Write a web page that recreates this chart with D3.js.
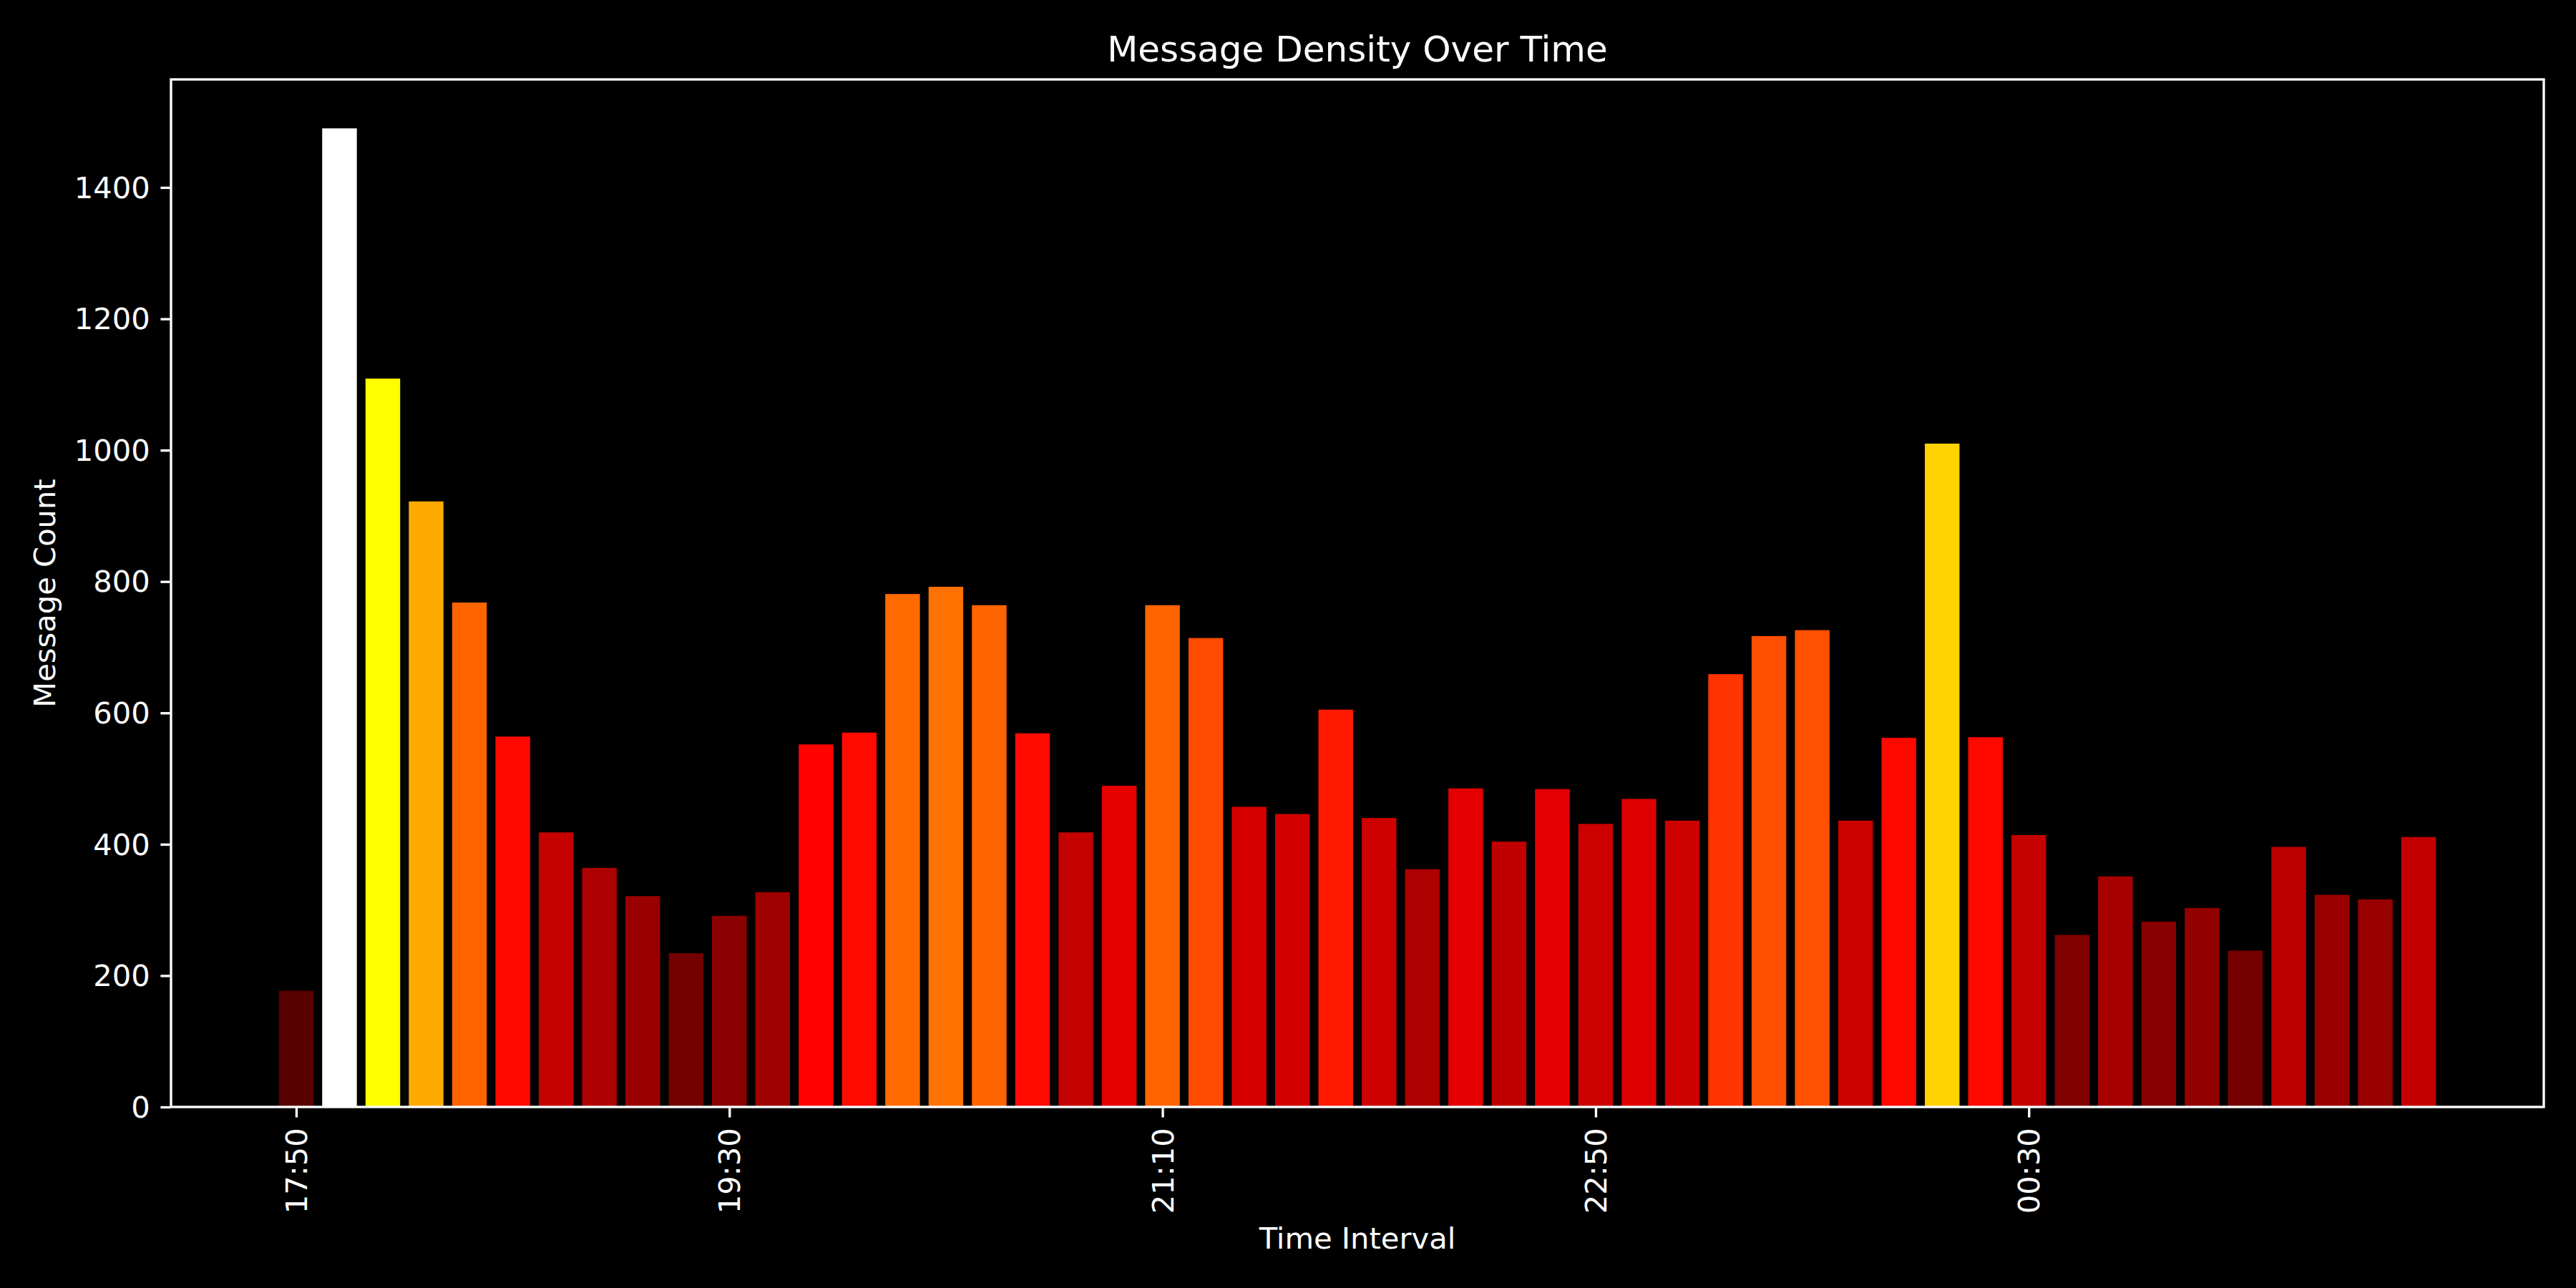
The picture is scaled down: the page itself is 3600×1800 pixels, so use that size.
<!DOCTYPE html>
<html>
<head>
<meta charset="utf-8">
<script src="https://cdn.jsdelivr.net/npm/d3@7"></script>
<style>
  html, body { margin: 0; padding: 0; background: #000; }
  svg { display: block; }
  text { font-family: "DejaVu Sans", sans-serif; fill: #fff; }
</style>
</head>
<body>
<svg id="chart" width="3600" height="1800"></svg>
<script>
// ---- data ----
const timeLabels = [
  "17:50","18:00","18:10","18:20","18:30","18:40","18:50","19:00","19:10","19:20",
  "19:30","19:40","19:50","20:00","20:10","20:20","20:30","20:40","20:50","21:00",
  "21:10","21:20","21:30","21:40","21:50","22:00","22:10","22:20","22:30","22:40",
  "22:50","23:00","23:10","23:20","23:30","23:40","23:50","00:00","00:10","00:20",
  "00:30","00:40","00:50","01:00","01:10","01:20","01:30","01:40","01:50","02:00"
];
const messageCounts = [
  177, 1490, 1109, 922, 768, 564, 418, 364, 321, 234,
  291, 327, 552, 570, 781, 792, 764, 569, 418, 489,
  764, 714, 457, 446, 605, 440, 362, 485, 404, 484,
  431, 469, 436, 659, 717, 726, 436, 562, 1010, 563,
  414, 262, 351, 282, 303, 238, 396, 323, 316, 411
];
const xTickIndices = [0, 10, 20, 30, 40];
const yTickValues = [0, 200, 400, 600, 800, 1000, 1200, 1400];
const titleText = "Message Density Over Time";
const xLabelText = "Time Interval";
const yLabelText = "Message Count";

// ---- layout ----
const W = 3600, H = 1800;
const plotL = 239, plotR = 3555, plotT = 111, plotB = 1547;
const px = 300 / 72; // points to pixels at 300 dpi
const fs = 10 * px;
const tickLen = 3.5 * px, tickPad = 3.5 * px, lw = 0.8 * px;

const svg = d3.select("#chart");
svg.append("rect").attr("width", W).attr("height", H).attr("fill", "#000");

const n = messageCounts.length;
const barW = 0.8;
const span = (n - 1) + barW;
const xMin = -barW / 2 - 0.05 * span, xMax = (n - 1) + barW / 2 + 0.05 * span;
const x = d3.scaleLinear().domain([xMin, xMax]).range([plotL, plotR]);
const yMax = d3.max(messageCounts) * 1.05;
const y = d3.scaleLinear().domain([0, yMax]).range([plotB, plotT]);

// matplotlib 'hot' colormap (256-entry LUT)
const hotR = d3.scaleLinear().domain([0, 0.365079, 1]).range([0.0416, 1, 1]).clamp(true);
const hotG = d3.scaleLinear().domain([0, 0.365079, 0.746032, 1]).range([0, 0, 1, 1]).clamp(true);
const hotB = d3.scaleLinear().domain([0, 0.746032, 1]).range([0, 0, 1]).clamp(true);
function hot(t) {
  t = Math.max(0, Math.min(1, t));
  const i = Math.min(255, Math.floor(t * 256));
  const v = i / 255;
  return d3.rgb(Math.round(hotR(v) * 255), Math.round(hotG(v) * 255), Math.round(hotB(v) * 255)).formatHex();
}
const vmax = d3.max(messageCounts);

// bars
svg.append("g").selectAll("rect")
  .data(messageCounts)
  .join("rect")
  .attr("x", (d, i) => x(i - barW / 2))
  .attr("width", (d, i) => x(i + barW / 2) - x(i - barW / 2))
  .attr("y", d => y(d))
  .attr("height", d => y(0) - y(d))
  .attr("fill", d => hot(d / vmax));

// y axis
const yAxis = d3.axisLeft(y).tickValues(yTickValues).tickFormat(d3.format("d"))
  .tickSize(tickLen).tickPadding(tickPad);
const gy = svg.append("g").attr("transform", `translate(${plotL},0)`).call(yAxis);
gy.select(".domain").remove();
gy.selectAll(".tick line").attr("stroke", "#fff").attr("stroke-width", lw);
gy.selectAll(".tick text").attr("fill", "#fff").attr("font-size", fs)
  .attr("font-family", "DejaVu Sans").attr("dy", "0.34em");

// x axis
const xAxis = d3.axisBottom(x).tickValues(xTickIndices).tickFormat(i => timeLabels[i])
  .tickSize(tickLen).tickPadding(tickPad);
const gx = svg.append("g").attr("transform", `translate(0,${plotB})`).call(xAxis);
gx.select(".domain").remove();
gx.selectAll(".tick line").attr("stroke", "#fff").attr("stroke-width", lw);
gx.selectAll(".tick text")
  .attr("fill", "#fff").attr("font-size", fs).attr("font-family", "DejaVu Sans")
  .attr("y", null).attr("dy", null)
  .attr("text-anchor", "end")
  .attr("dominant-baseline", "central")
  .attr("transform", `translate(0,${tickLen + tickPad}) rotate(-90)`);

// frame (spines)
svg.append("rect")
  .attr("x", plotL).attr("y", plotT)
  .attr("width", plotR - plotL).attr("height", plotB - plotT)
  .attr("fill", "none").attr("stroke", "#fff").attr("stroke-width", lw);

// title
svg.append("text")
  .attr("x", (plotL + plotR) / 2).attr("y", plotT - 6 * px)
  .attr("text-anchor", "middle").attr("font-size", 12 * px)
  .text(titleText);

// x label
svg.append("text")
  .attr("x", (plotL + plotR) / 2).attr("y", 1745)
  .attr("text-anchor", "middle").attr("font-size", fs)
  .text(xLabelText);

// y label
svg.append("text")
  .attr("transform", `translate(77,${(plotT + plotB) / 2}) rotate(-90)`)
  .attr("text-anchor", "middle").attr("font-size", fs)
  .text(yLabelText);
</script>
</body>
</html>
